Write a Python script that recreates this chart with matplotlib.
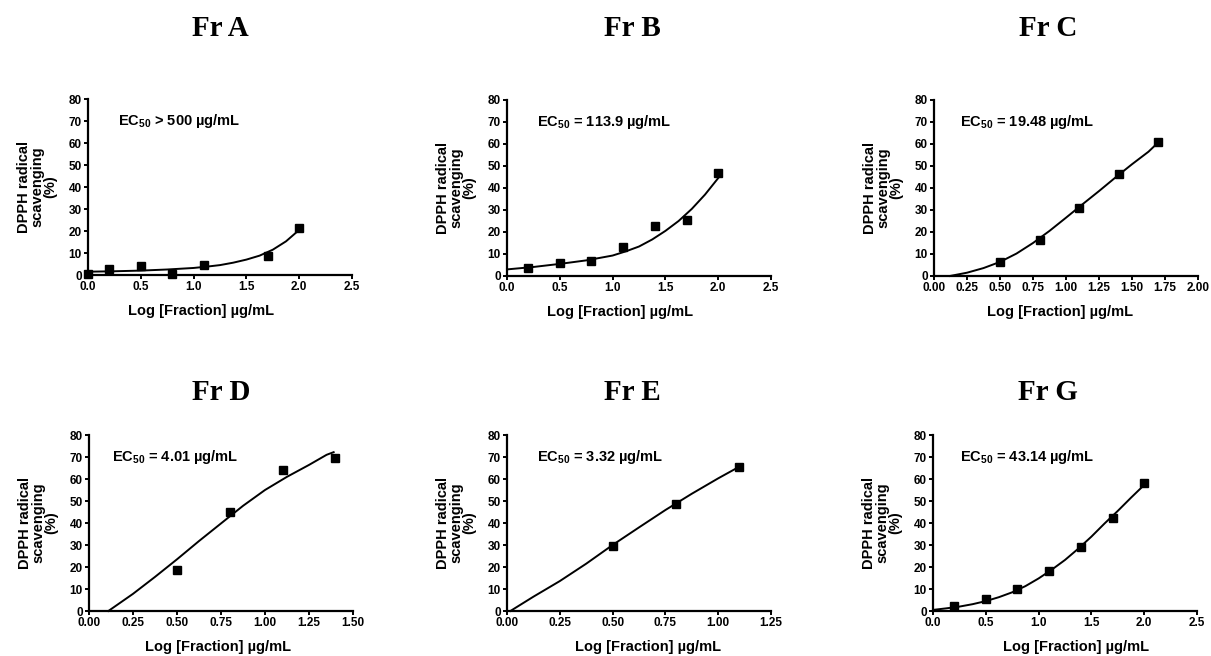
import numpy as np
import matplotlib
matplotlib.use("Agg")
import matplotlib.pyplot as plt
from matplotlib.ticker import FormatStrFormatter, MultipleLocator

plt.rcParams['font.family'] = ['Liberation Sans', 'DejaVu Sans']
plt.rcParams['font.weight'] = 'bold'
plt.rcParams['mathtext.default'] = 'regular'

titles = ["Fr A", "Fr B", "Fr C", "Fr D", "Fr E", "Fr G"]
ec50_labels = ["EC$_{50}$ > 500 µg/mL", "EC$_{50}$ = 113.9 µg/mL", "EC$_{50}$ = 19.48 µg/mL",
               "EC$_{50}$ = 4.01 µg/mL", "EC$_{50}$ = 3.32 µg/mL", "EC$_{50}$ = 43.14 µg/mL"]

# measured points
a_x = [0.0, 0.2, 0.5, 0.8, 1.1, 1.7, 2.0]
a_y = [0.5, 2.7, 4.1, 0.5, 4.5, 8.6, 21.2]
b_x = [0.2, 0.5, 0.8, 1.1, 1.4, 1.7, 2.0]
b_y = [3.6, 6.0, 6.6, 13.1, 22.6, 25.5, 46.8]
c_x = [0.5, 0.8, 1.1, 1.4, 1.7]
c_y = [6.4, 16.4, 31.1, 46.4, 60.8]
d_x = [0.5, 0.8, 1.1, 1.4]
d_y = [18.8, 45.0, 64.2, 69.5]
e_x = [0.5, 0.8, 1.1]
e_y = [29.7, 48.5, 65.5]
g_x = [0.2, 0.5, 0.8, 1.1, 1.4, 1.7, 2.0]
g_y = [2.3, 5.3, 10.0, 18.3, 29.2, 42.1, 58.0]

# fitted curves
a_fit_x = [0, 0.25, 0.5, 0.75, 1.0, 1.125, 1.25, 1.375, 1.5, 1.625, 1.75, 1.875, 2.0]
a_fit_y = [1.5, 1.7, 2.0, 2.5, 3.2, 3.8, 4.5, 5.6, 7.0, 8.8, 11.5, 15.3, 20.5]
b_fit_x = [0, 0.25, 0.5, 0.75, 1.0, 1.125, 1.25, 1.375, 1.5, 1.625, 1.75, 1.875, 2.0]
b_fit_y = [3.0, 4.1, 5.5, 7.1, 9.3, 11.2, 13.4, 16.6, 20.5, 25.0, 30.5, 37.0, 44.5]
c_fit_x = [0.12, 0.25, 0.375, 0.5, 0.625, 0.75, 0.875, 1.0, 1.125, 1.25, 1.375, 1.5, 1.625, 1.7]
c_fit_y = [0, 1.5, 3.6, 6.4, 10.2, 15.0, 20.5, 26.5, 32.6, 38.6, 44.8, 50.8, 56.5, 60.8]
d_fit_x = [0.11, 0.25, 0.375, 0.5, 0.625, 0.75, 0.875, 1.0, 1.125, 1.25, 1.35, 1.39]
d_fit_y = [0, 7.8, 15.5, 23.5, 31.8, 39.8, 47.8, 55.0, 61.0, 66.4, 71.0, 72.2]
e_fit_x = [0.016, 0.125, 0.25, 0.375, 0.5, 0.625, 0.75, 0.875, 1.0, 1.1]
e_fit_y = [0, 6.5, 13.6, 21.5, 30.0, 38.0, 45.9, 53.3, 60.3, 65.6]
g_fit_x = [0, 0.125, 0.25, 0.375, 0.5, 0.625, 0.75, 0.875, 1.0, 1.125, 1.25, 1.375, 1.5, 1.625, 1.75, 1.875, 2.0]
g_fit_y = [0.5, 1.2, 2.0, 3.1, 4.5, 6.3, 8.5, 11.3, 14.8, 18.8, 23.2, 28.3, 33.8, 39.8, 45.5, 51.5, 57.3]

x_max = [2.5, 2.5, 2.0, 1.5, 1.25, 2.5]
x_step = [0.5, 0.5, 0.25, 0.25, 0.25, 0.5]
x_fmt = ["%.1f", "%.1f", "%.2f", "%.2f", "%.2f", "%.1f"]

W, H = 1211, 656


def draw_panel(fig, box, px, py, fx, fy, i, xlab_x, ec_x):
    left, bottom = box
    ax = fig.add_axes([left / W, 1 - bottom / H, 264 / W, 176 / H])
    ax.plot(fx, fy, color='black', lw=1.4, clip_on=False, zorder=2)
    ax.plot(px, py, 's', color='black', ms=6, clip_on=False, zorder=3)
    ax.set_xlim(0, x_max[i])
    ax.set_ylim(0, 80)
    ax.xaxis.set_major_locator(MultipleLocator(x_step[i]))
    ax.yaxis.set_major_locator(MultipleLocator(10))
    ax.xaxis.set_major_formatter(FormatStrFormatter(x_fmt[i]))
    for side in ['top', 'right']:
        ax.spines[side].set_visible(False)
    for side in ['left', 'bottom']:
        ax.spines[side].set_linewidth(1.6)
    ax.tick_params(width=1.4, length=3, labelsize=8.5, pad=1.5)
    for lab in ax.get_xticklabels() + ax.get_yticklabels():
        lab.set_fontweight('bold')

    ax.text(ec_x, 70, ec50_labels[i], transform=ax.get_yaxis_transform(),
            fontsize=10.5, fontweight='bold', va='center', ha='left')
    ax.text(-51 / 264, 0.5, "DPPH radical\nscavenging\n(%)", transform=ax.transAxes,
            rotation=90, ha='center', va='center', fontsize=10.5, fontweight='bold',
            linespacing=0.92, multialignment='center')
    ax.text(xlab_x, -0.205, "Log [Fraction] µg/mL", transform=ax.transAxes,
            ha='center', va='center', fontsize=10.5, fontweight='bold')
    return ax


def main():
    fig = plt.figure(figsize=(W / 100, H / 100), dpi=100)

    boxes = [(88, 275), (507, 276), (934, 276), (89, 611), (507, 611), (933, 611)]
    xlab_pos = [0.43, 0.43, 0.477, 0.489, 0.534, 0.543]
    ec_pos = [0.113, 0.114, 0.098, 0.087, 0.114, 0.102]
    points = [(a_x, a_y), (b_x, b_y), (c_x, c_y), (d_x, d_y), (e_x, e_y), (g_x, g_y)]
    fits = [(a_fit_x, a_fit_y), (b_fit_x, b_fit_y), (c_fit_x, c_fit_y),
            (d_fit_x, d_fit_y), (e_fit_x, e_fit_y), (g_fit_x, g_fit_y)]

    for i in range(6):
        draw_panel(fig, boxes[i], points[i][0], points[i][1], fits[i][0], fits[i][1],
                   i, xlab_pos[i], ec_pos[i])

    title_pos = [(220, 28), (632, 28), (1048, 28), (221, 392), (632, 392), (1048, 392)]
    for t, (tx, ty) in zip(titles, title_pos):
        fig.text(tx / W, 1 - ty / H, t, ha='center', va='center', fontsize=21,
                 fontweight='bold', family=['Liberation Serif', 'DejaVu Serif'])

    fig.savefig("out.png", dpi=100)


if __name__ == '__main__':
    main()
